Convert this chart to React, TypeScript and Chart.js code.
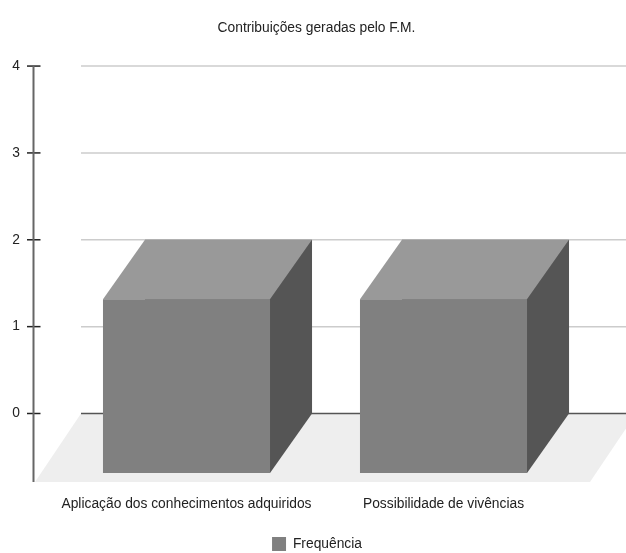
import React, { useEffect, useRef } from "react";
import { Chart, registerables } from "chart.js";

Chart.register(...registerables);

const titleText = "Contribuições geradas pelo F.M.";
const categories = ["Aplicação dos conhecimentos adquiridos", "Possibilidade de vivências"];
const seriesName = "Frequência";
const values = [2, 2];
const yTicks = [0, 1, 2, 3, 4];
const FONT = "'Liberation Sans', Arial, sans-serif";
const FONT_SIZE = 13.8;

const BAR_DX = -42;
const BAR_DY = 59.5;
const FLOOR_DX = -46;
const FLOOR_DY = 68.5;
const GRID_LEFT = 81;
const AXIS_X = 33.5;

function poly(ctx: CanvasRenderingContext2D, pts: number[][], fill: string) {
  ctx.beginPath();
  pts.forEach((p, i) => (i ? ctx.lineTo(p[0], p[1]) : ctx.moveTo(p[0], p[1])));
  ctx.closePath();
  ctx.fillStyle = fill;
  ctx.fill();
}

const scene = {
  id: "scene3d",
  afterLayout(chart: any) {
    const lg = chart.legend;
    if (lg) {
      const h = lg.height;
      lg.left = 8;
      lg.right = 626;
      lg.top = 527;
      lg.bottom = 527 + h;
    }
    const tb = chart.titleBlock;
    if (tb) {
      tb.left = 19;
      tb.right = 614;
    }
  },
  beforeDatasetsDraw(chart: any) {
    const ctx = chart.ctx as CanvasRenderingContext2D;
    const y = chart.scales.y;
    const zero = y.getPixelForValue(0);
    const right = 636;
    ctx.save();
    poly(
      ctx,
      [
        [GRID_LEFT, zero],
        [right, zero],
        [right + FLOOR_DX, zero + FLOOR_DY],
        [GRID_LEFT + FLOOR_DX, zero + FLOOR_DY],
      ],
      "#eeeeee"
    );
    yTicks.forEach((t) => {
      const py = y.getPixelForValue(t);
      ctx.beginPath();
      ctx.moveTo(GRID_LEFT, py);
      ctx.lineTo(626, py);
      ctx.lineWidth = 1.5;
      ctx.strokeStyle = t === 0 ? "#555555" : "#cccccc";
      ctx.stroke();
      ctx.beginPath();
      ctx.moveTo(27, py);
      ctx.lineTo(40.5, py);
      ctx.lineWidth = 1.5;
      ctx.strokeStyle = "#222222";
      ctx.stroke();
    });
    ctx.beginPath();
    ctx.moveTo(AXIS_X, y.getPixelForValue(4));
    ctx.lineTo(AXIS_X, zero + FLOOR_DY);
    ctx.lineWidth = 2;
    ctx.strokeStyle = "#666666";
    ctx.stroke();
    ctx.restore();
  },
  afterDatasetsDraw(chart: any) {
    const ctx = chart.ctx as CanvasRenderingContext2D;
    const meta = chart.getDatasetMeta(0);
    ctx.save();
    meta.data.forEach((bar: any) => {
      const l = bar.x - bar.width / 2;
      const r = bar.x + bar.width / 2;
      const t = bar.y;
      const b = bar.base;
      poly(ctx, [[l, t], [r, t], [r + BAR_DX, t + BAR_DY], [l + BAR_DX, t + BAR_DY]], "#999999");
      poly(ctx, [[r, t], [r, b], [r + BAR_DX, b + BAR_DY], [r + BAR_DX, t + BAR_DY]], "#555555");
      poly(
        ctx,
        [[l + BAR_DX, t + BAR_DY], [r + BAR_DX, t + BAR_DY], [r + BAR_DX, b + BAR_DY], [l + BAR_DX, b + BAR_DY]],
        "#808080"
      );
    });
    ctx.restore();
  },
};

export default function App() {
  const ref = useRef<HTMLCanvasElement>(null);
  useEffect(() => {
    const chart = new Chart(ref.current as HTMLCanvasElement, {
      type: "bar",
      data: {
        labels: categories,
        datasets: [
          {
            label: seriesName,
            data: values,
            backgroundColor: "#808080",
            barPercentage: 0.65,
            categoryPercentage: 1,
          },
        ],
      },
      options: {
        responsive: false,
        animation: false,
        layout: { padding: { left: 0, right: 12, top: 0, bottom: 0 } },
        scales: {
          x: {
            grid: { display: false },
            border: { display: false },
            ticks: {
              autoSkip: false,
              maxRotation: 0,
              labelOffset: BAR_DX,
              padding: 74,
              color: "#222222",
              font: { family: FONT, size: FONT_SIZE },
            },
            afterFit(scale: any) {
              scale.height = 553 - 413.5 - (scale.chart.legend?.height ?? 0);
              scale.paddingLeft = 0;
              scale.paddingRight = 0;
            },
          },
          y: {
            min: 0,
            max: 4,
            grid: { display: false },
            border: { display: false },
            ticks: {
              stepSize: 1,
              padding: 72,
              color: "#222222",
              font: { family: FONT, size: FONT_SIZE },
            },
            afterFit(scale: any) {
              scale.width = 100;
              scale.paddingTop = 0;
              scale.paddingBottom = 0;
            },
          },
        },
        plugins: {
          title: {
            display: true,
            text: titleText,
            color: "#222222",
            font: { family: FONT, size: FONT_SIZE, weight: "normal" },
            padding: { top: 19.5, bottom: 30 },
          },
          legend: {
            position: "bottom",
            labels: {
              boxWidth: 14,
              boxHeight: 14,
              color: "#222222",
              font: { family: FONT, size: FONT_SIZE },
            },
          },
          tooltip: { enabled: false },
        },
      },
      plugins: [scene],
    } as any);
    return () => chart.destroy();
  }, []);
  return (
    <div style={{ position: "absolute", left: 0, top: 0, width: 626, height: 553, background: "#fff" }}>
      <canvas ref={ref} width={626} height={553} style={{ display: "block" }} />
    </div>
  );
}
